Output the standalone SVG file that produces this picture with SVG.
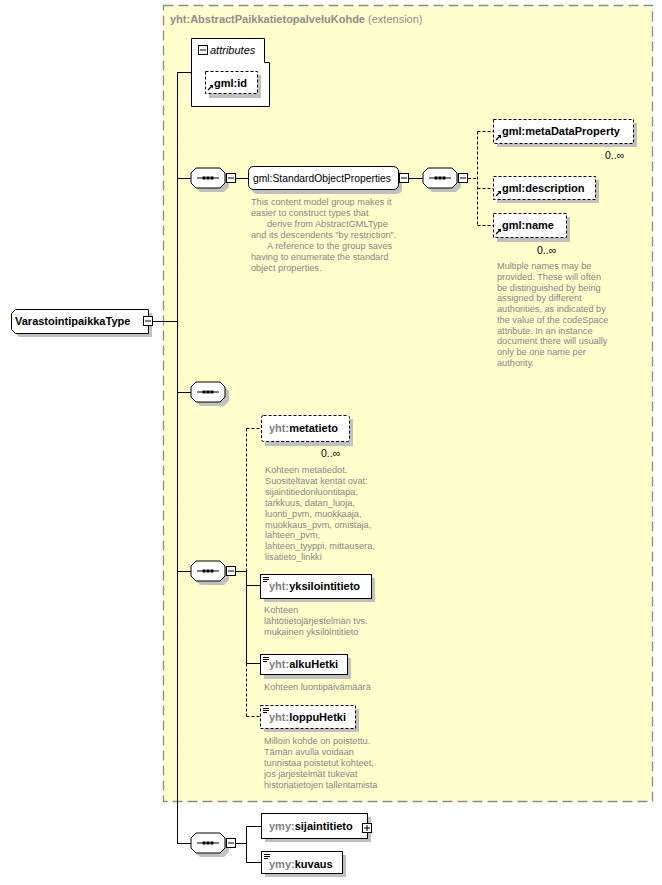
<svg xmlns="http://www.w3.org/2000/svg" xmlns:xlink="http://www.w3.org/1999/xlink" width="662" height="885" viewBox="0 0 662 885">
<style>
text{font-family:"Liberation Sans",Arial,sans-serif}
.nm{font-size:11px;font-weight:bold;fill:#000}
.nn{font-size:10.3px;fill:#000}
.px{fill:#808080}
.ann{font-size:9.2px;fill:#858585}
.occ{font-size:10.5px;fill:#000}
.box{fill:#fff;stroke:#000;stroke-width:1}
.dbox{fill:#fff;stroke:#000;stroke-width:1;stroke-dasharray:3,2}
.sh{fill:#c0c0c0;stroke:none}
.ln{fill:none;stroke:#000;stroke-width:1}
.dl{fill:none;stroke:#000;stroke-width:1;stroke-dasharray:3,2}
</style>
<defs>
<g id="seq">
<path class="sh" d="M9,4 H33 L38,9 V19 L33,24 H9 L4,19 V9 Z"/>
<path class="box" d="M5,0 H29 L34,5 V15 L29,20 H5 L0,15 V5 Z"/>
<line x1="6" y1="10" x2="28" y2="10" stroke="#000"/>
<rect x="11.5" y="8.5" width="3" height="3" fill="#000"/>
<rect x="15.5" y="8.5" width="3" height="3" fill="#000"/>
<rect x="19.5" y="8.5" width="3" height="3" fill="#000"/>
</g>
<g id="minus">
<rect class="box" x="0.5" y="0.5" width="9" height="9"/>
<line x1="2" y1="5" x2="8" y2="5" stroke="#000"/>
</g>
<g id="ref">
<path d="M0,0 L4,-4" stroke="#000" stroke-width="1.2" fill="none"/>
<path d="M1.5,-5 L5,-5 L5,-1.5 Z" fill="#000"/>
</g>
<g id="simple">
<line x1="0" y1="0.5" x2="6" y2="0.5" stroke="#000"/>
<line x1="0" y1="2.5" x2="6" y2="2.5" stroke="#000"/>
<line x1="0" y1="4.5" x2="4" y2="4.5" stroke="#000"/>
</g>
</defs>
<rect width="662" height="885" fill="#fff"/>

<g id="extension">
<rect x="163.5" y="5.5" width="489" height="796" fill="#ffffcc" stroke="#8c8c8c" stroke-width="1.3" stroke-dasharray="10,5"/>
<text x="170" y="23" font-size="11px" fill="#8c8c8c"><tspan font-weight="bold">yht:AbstractPaikkatietopalveluKohde</tspan> (extension)</text>
</g>

<g id="connectors">
<line class="ln" x1="177.5" y1="72" x2="177.5" y2="843.5"/>
<line class="ln" x1="177" y1="72.5" x2="191" y2="72.5"/>
<line class="ln" x1="153" y1="321.5" x2="177" y2="321.5"/>
<line class="ln" x1="177" y1="178.5" x2="191" y2="178.5"/>
<line class="ln" x1="236" y1="178.5" x2="248" y2="178.5"/>
<line class="ln" x1="408" y1="178.5" x2="423" y2="178.5"/>
<line class="dl" x1="468" y1="178.5" x2="477.5" y2="178.5"/>
<line class="dl" x1="477.5" y1="131.5" x2="477.5" y2="225.5"/>
<line class="dl" x1="477.5" y1="131.5" x2="493" y2="131.5"/>
<line class="dl" x1="477.5" y1="188.5" x2="493" y2="188.5"/>
<line class="dl" x1="477.5" y1="225.5" x2="493" y2="225.5"/>
<line class="ln" x1="177" y1="392.5" x2="191" y2="392.5"/>
<line class="ln" x1="177" y1="571.5" x2="191" y2="571.5"/>
<line class="ln" x1="236" y1="571.5" x2="246.5" y2="571.5"/>
<line class="dl" x1="246.5" y1="428.5" x2="246.5" y2="571.5"/>
<line class="ln" x1="246.5" y1="571.5" x2="246.5" y2="663.5"/>
<line class="dl" x1="246.5" y1="663.5" x2="246.5" y2="716.5"/>
<line class="dl" x1="246.5" y1="428.5" x2="261" y2="428.5"/>
<line class="ln" x1="246.5" y1="585.5" x2="260" y2="585.5"/>
<line class="ln" x1="246.5" y1="663.5" x2="260" y2="663.5"/>
<line class="dl" x1="246.5" y1="716.5" x2="260" y2="716.5"/>
<line class="ln" x1="177" y1="843.5" x2="191" y2="843.5"/>
<line class="ln" x1="236" y1="843.5" x2="246.5" y2="843.5"/>
<line class="ln" x1="246.5" y1="826.5" x2="246.5" y2="862.5"/>
<line class="ln" x1="246.5" y1="826.5" x2="261" y2="826.5"/>
<line class="ln" x1="246.5" y1="862.5" x2="261" y2="862.5"/>
</g>

<g id="VarastointipaikkaType">
<path class="sh" d="M19,313 H152 V337 H19 L15,333 V317 Z"/>
<path class="box" d="M15.5,309.5 H148.5 V333.5 H15.5 L11.5,329.5 V313.5 Z"/>
<text class="nm" x="15" y="325">VarastointipaikkaType</text>
<use href="#minus" x="143" y="316"/>
</g>

<g id="attributes">
<path class="box" d="M191.5,38.5 H264.5 V62.5 H269.5 V106.5 H191.5 Z"/>
<use href="#minus" x="198" y="45"/>
<text x="210" y="54" font-size="11px" font-style="italic" fill="#000">attributes</text>
</g>

<g id="gml-id">
<rect class="sh" x="209" y="75" width="52" height="23"/>
<rect class="dbox" x="205.5" y="71.5" width="52" height="22"/>
<use href="#ref" x="208" y="90"/>
<text class="nm" x="214" y="87">gml:id</text>
</g>

<g id="seq1">
<use href="#seq" x="191" y="168"/>
<use href="#minus" x="226" y="173"/>
</g>

<g id="StandardObjectProperties">
<rect class="sh" x="252" y="170" width="150" height="24" rx="5"/>
<rect class="box" x="248.5" y="166.5" width="150" height="23" rx="5"/>
<text class="nn" x="253" y="182">gml:StandardObjectProperties</text>
<use href="#minus" x="399" y="173"/>
<text class="ann">
<tspan x="251" y="205">This content model group makes it</tspan>
<tspan x="251" y="216">easier to construct types that</tspan>
<tspan x="267" y="227">derive from AbstractGMLType</tspan>
<tspan x="251" y="238">and its descendents "by restriction".</tspan>
<tspan x="267" y="249">A reference to the group saves</tspan>
<tspan x="251" y="260">having to enumerate the standard</tspan>
<tspan x="251" y="271">object properties.</tspan>
</text>
</g>

<g id="seq2">
<use href="#seq" x="423" y="168"/>
<use href="#minus" x="458" y="173"/>
</g>

<g id="metaDataProperty">
<rect class="sh" x="497" y="123" width="140" height="24"/>
<rect class="dbox" x="493.5" y="119.5" width="140" height="24"/>
<use href="#ref" x="496" y="140"/>
<text class="nm" x="502" y="135">gml:metaDataProperty</text>
<text class="occ" x="605" y="159">0..∞</text>
</g>

<g id="description">
<rect class="sh" x="497" y="180" width="102" height="23"/>
<rect class="dbox" x="493.5" y="176.5" width="102" height="23"/>
<use href="#ref" x="496" y="196"/>
<text class="nm" x="502" y="192">gml:description</text>
</g>

<g id="name">
<rect class="sh" x="497" y="217" width="73" height="25"/>
<rect class="dbox" x="493.5" y="213.5" width="73" height="24"/>
<use href="#ref" x="496" y="234"/>
<text class="nm" x="502" y="229">gml:name</text>
<text class="occ" x="537" y="254">0..∞</text>
<text class="ann">
<tspan x="497" y="269">Multiple names may be</tspan>
<tspan x="497" y="280">provided.  These will often</tspan>
<tspan x="497" y="291">be distinguished by being</tspan>
<tspan x="497" y="301">assigned by different</tspan>
<tspan x="497" y="312">authorities, as indicated by</tspan>
<tspan x="497" y="323">the value of the codeSpace</tspan>
<tspan x="497" y="334">attribute.  In an instance</tspan>
<tspan x="497" y="344">document there will usually</tspan>
<tspan x="497" y="355">only be one name per</tspan>
<tspan x="497" y="366">authority.</tspan>
</text>
</g>

<g id="seq3">
<use href="#seq" x="191" y="382"/>
</g>

<g id="seq4">
<use href="#seq" x="191" y="561"/>
<use href="#minus" x="226" y="566"/>
</g>

<g id="metatieto">
<rect class="sh" x="265" y="419" width="88" height="27"/>
<rect class="dbox" x="261.5" y="415.5" width="88" height="26" rx="2"/>
<text class="nm" x="269" y="432"><tspan class="px">yht:</tspan>metatieto</text>
<text class="occ" x="321" y="457">0..∞</text>
<text class="ann">
<tspan x="265" y="473">Kohteen metatiedot.</tspan>
<tspan x="265" y="484">Suositeltavat kentät ovat:</tspan>
<tspan x="265" y="495">sijaintitiedonluontitapa,</tspan>
<tspan x="265" y="506">tarkkuus, datan_luoja,</tspan>
<tspan x="265" y="517">luonti_pvm, muokkaaja,</tspan>
<tspan x="265" y="528">muokkaus_pvm, omistaja,</tspan>
<tspan x="265" y="538">lahteen_pvm,</tspan>
<tspan x="265" y="549">lahteen_tyyppi, mittausera,</tspan>
<tspan x="265" y="560">lisatieto_linkki</tspan>
</text>
</g>

<g id="yksilointitieto">
<rect class="sh" x="264" y="578" width="111" height="24"/>
<rect class="box" x="260.5" y="574.5" width="111" height="24"/>
<use href="#simple" x="263" y="577"/>
<text class="nm" x="269" y="590"><tspan class="px">yht:</tspan>yksilointitieto</text>
<text class="ann">
<tspan x="264" y="613">Kohteen</tspan>
<tspan x="264" y="624">lähtötietojärjestelmän  tvs.</tspan>
<tspan x="264" y="635">mukainen yksilöintitieto</tspan>
</text>
</g>

<g id="alkuHetki">
<rect class="sh" x="264" y="658" width="87" height="21"/>
<rect class="box" x="260.5" y="654.5" width="87" height="20"/>
<use href="#simple" x="263" y="657"/>
<text class="nm" x="269" y="668"><tspan class="px">yht:</tspan>alkuHetki</text>
<text class="ann" x="264" y="690">Kohteen luontipäivämäärä</text>
</g>

<g id="loppuHetki">
<rect class="sh" x="264" y="709" width="95" height="23"/>
<rect class="dbox" x="260.5" y="705.5" width="95" height="23"/>
<use href="#simple" x="263" y="708"/>
<text class="nm" x="269" y="721"><tspan class="px">yht:</tspan>loppuHetki</text>
<text class="ann">
<tspan x="264" y="744">Milloin kohde on poistettu.</tspan>
<tspan x="264" y="755">Tämän avulla voidaan</tspan>
<tspan x="264" y="766">tunnistaa poistetut kohteet,</tspan>
<tspan x="264" y="777">jos järjestelmät tukevat</tspan>
<tspan x="264" y="788">historiatietojen tallentamista</tspan>
</text>
</g>

<g id="seq5">
<use href="#seq" x="191" y="833"/>
<use href="#minus" x="226" y="838"/>
</g>

<g id="sijaintitieto">
<rect class="sh" x="265" y="817" width="106" height="25"/>
<rect class="box" x="261.5" y="813.5" width="106" height="25"/>
<text class="nm" x="269" y="830"><tspan class="px">ymy:</tspan>sijaintitieto</text>
<rect class="box" x="362.5" y="823.5" width="9" height="9"/>
<line x1="364" y1="828" x2="370" y2="828" stroke="#000"/>
<line x1="367" y1="825" x2="367" y2="831" stroke="#000"/>
</g>

<g id="kuvaus">
<rect class="sh" x="265" y="855" width="81" height="22"/>
<rect class="box" x="261.5" y="851.5" width="81" height="22"/>
<use href="#simple" x="264" y="854"/>
<text class="nm" x="269" y="868"><tspan class="px">ymy:</tspan>kuvaus</text>
</g>
</svg>
